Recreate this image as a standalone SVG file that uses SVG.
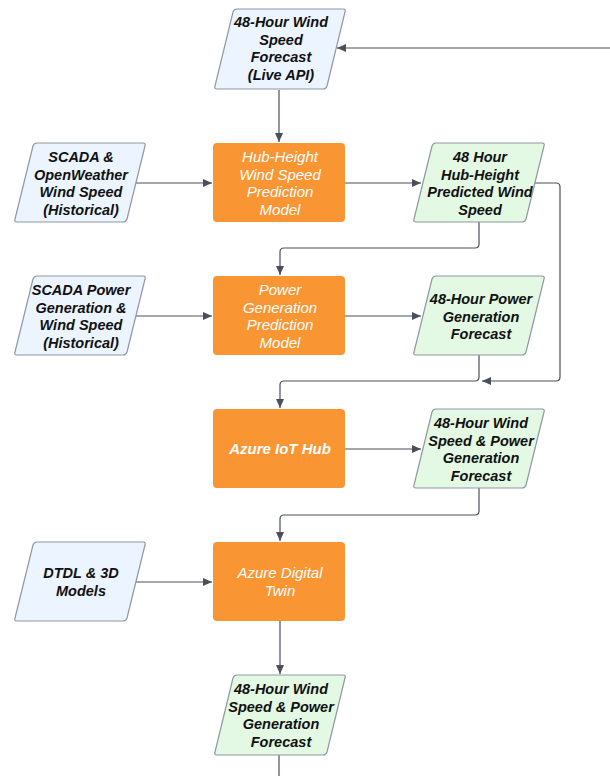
<svg xmlns="http://www.w3.org/2000/svg" width="610" height="776" viewBox="0 0 610 776">
<defs>
<marker id="ah" markerWidth="10" markerHeight="10" refX="9" refY="5" orient="auto" markerUnits="userSpaceOnUse">
<path d="M0,1 L9,5 L0,9 Z" fill="#4a505a"/>
</marker>
<style>
.blue{fill:#ecf4ff;stroke:#8f98a3;stroke-width:1.2;stroke-linejoin:round}
.green{fill:#e3f9e3;stroke:#8f98a3;stroke-width:1.2;stroke-linejoin:round}
.orange{fill:#f99533}
.t{font-family:"Liberation Sans",Arial,sans-serif;font-size:14.5px;font-style:italic;font-weight:bold;fill:#111;text-anchor:middle}
.w{font-family:"Liberation Sans",Arial,sans-serif;font-size:15px;font-style:italic;fill:#ffffff;text-anchor:middle}
.wb{font-weight:bold}
.c{fill:none;stroke:#4a505a;stroke-width:1.2}
</style>
</defs>
<rect width="610" height="776" fill="#ffffff"/>
<g id="connectors">
<path class="c" d="M279,90 V142" marker-end="url(#ah)"/>
<path class="c" d="M610,48 H337" marker-end="url(#ah)"/>
<path class="c" d="M136,183 H212" marker-end="url(#ah)"/>
<path class="c" d="M345,183 H421" marker-end="url(#ah)"/>
<path class="c" d="M479,222 V244 Q479,248 475,248 H284 Q280,248 280,252 V275" marker-end="url(#ah)"/>
<path class="c" d="M535,183 H556 Q560,183 560,187 V377 Q560,381 556,381 H482" marker-end="url(#ah)"/>
<path class="c" d="M136,316 H212" marker-end="url(#ah)"/>
<path class="c" d="M345,316 H421" marker-end="url(#ah)"/>
<path class="c" d="M479,355 V377 Q479,381 475,381 H284 Q280,381 280,385 V408" marker-end="url(#ah)"/>
<path class="c" d="M345,449 H421" marker-end="url(#ah)"/>
<path class="c" d="M479,488 V511 Q479,515 475,515 H284 Q280,515 280,519 V541" marker-end="url(#ah)"/>
<path class="c" d="M136,582 H212" marker-end="url(#ah)"/>
<path class="c" d="M280,621 V674" marker-end="url(#ah)"/>
<path class="c" d="M279,755 V776"/>
</g>
<g id="live-api">
<path class="blue" d="M237,9 H343 Q346,9 345,12 L327,86 Q326,89 323,89 H217 Q214,89 215,86 L233,12 Q234,9 237,9 Z"/>
<text class="t" x="281" y="27">48-Hour Wind</text>
<text class="t" x="281" y="44.5">Speed</text>
<text class="t" x="281" y="62">Forecast</text>
<text class="t" x="281" y="79.5">(Live API)</text>
</g>
<g id="scada-openweather">
<path class="blue" d="M37,143 H143 Q146,143 145,146 L127,219 Q126,222 123,222 H17 Q14,222 15,219 L33,146 Q34,143 37,143 Z"/>
<text class="t" x="81" y="162">SCADA &amp;</text>
<text class="t" x="81" y="179.5">OpenWeather</text>
<text class="t" x="81" y="197">Wind Speed</text>
<text class="t" x="81" y="214.5">(Historical)</text>
</g>
<g id="hub-height-model">
<rect class="orange" x="213" y="143" width="132" height="79" rx="4"/>
<text class="w" x="280" y="162">Hub-Height</text>
<text class="w" x="280" y="179.5">Wind Speed</text>
<text class="w" x="280" y="197">Prediction</text>
<text class="w" x="280" y="214.5">Model</text>
</g>
<g id="hub-height-predicted">
<path class="green" d="M436,143 H542 Q545,143 544,146 L526,219 Q525,222 522,222 H416 Q413,222 414,219 L432,146 Q433,143 436,143 Z"/>
<text class="t" x="480" y="162">48 Hour</text>
<text class="t" x="480" y="179.5">Hub-Height</text>
<text class="t" x="480" y="197">Predicted Wind</text>
<text class="t" x="480" y="214.5">Speed</text>
</g>
<g id="scada-power">
<path class="blue" d="M37,276 H143 Q146,276 145,279 L127,352 Q126,355 123,355 H17 Q14,355 15,352 L33,279 Q34,276 37,276 Z"/>
<text class="t" x="81" y="295">SCADA Power</text>
<text class="t" x="81" y="312.5">Generation &amp;</text>
<text class="t" x="81" y="330">Wind Speed</text>
<text class="t" x="81" y="347.5">(Historical)</text>
</g>
<g id="power-model">
<rect class="orange" x="213" y="276" width="132" height="79" rx="4"/>
<text class="w" x="280" y="295">Power</text>
<text class="w" x="280" y="312.5">Generation</text>
<text class="w" x="280" y="330">Prediction</text>
<text class="w" x="280" y="347.5">Model</text>
</g>
<g id="power-forecast">
<path class="green" d="M436,276 H542 Q545,276 544,279 L526,352 Q525,355 522,355 H416 Q413,355 414,352 L432,279 Q433,276 436,276 Z"/>
<text class="t" x="481" y="304">48-Hour Power</text>
<text class="t" x="481" y="321.5">Generation</text>
<text class="t" x="481" y="339">Forecast</text>
</g>
<g id="iot-hub">
<rect class="orange" x="213" y="409" width="132" height="79" rx="4"/>
<text class="w wb" x="280" y="454">Azure IoT Hub</text>
</g>
<g id="iot-forecast">
<path class="green" d="M436,409 H542 Q545,409 544,412 L526,485 Q525,488 522,488 H416 Q413,488 414,485 L432,412 Q433,409 436,409 Z"/>
<text class="t" x="481" y="428">48-Hour Wind</text>
<text class="t" x="481" y="445.5">Speed &amp; Power</text>
<text class="t" x="481" y="463">Generation</text>
<text class="t" x="481" y="480.5">Forecast</text>
</g>
<g id="dtdl">
<path class="blue" d="M37,542 H143 Q146,542 145,545 L127,618 Q126,621 123,621 H17 Q14,621 15,618 L33,545 Q34,542 37,542 Z"/>
<text class="t" x="81" y="578">DTDL &amp; 3D</text>
<text class="t" x="81" y="595.5">Models</text>
</g>
<g id="digital-twin">
<rect class="orange" x="213" y="542" width="132" height="79" rx="4"/>
<text class="w" x="280" y="578">Azure Digital</text>
<text class="w" x="280" y="595.5">Twin</text>
</g>
<g id="twin-forecast">
<path class="green" d="M237,675 H343 Q346,675 345,678 L327,752 Q326,755 323,755 H217 Q214,755 215,752 L233,678 Q234,675 237,675 Z"/>
<text class="t" x="281" y="694">48-Hour Wind</text>
<text class="t" x="281" y="711.5">Speed &amp; Power</text>
<text class="t" x="281" y="729">Generation</text>
<text class="t" x="281" y="746.5">Forecast</text>
</g>
</svg>
